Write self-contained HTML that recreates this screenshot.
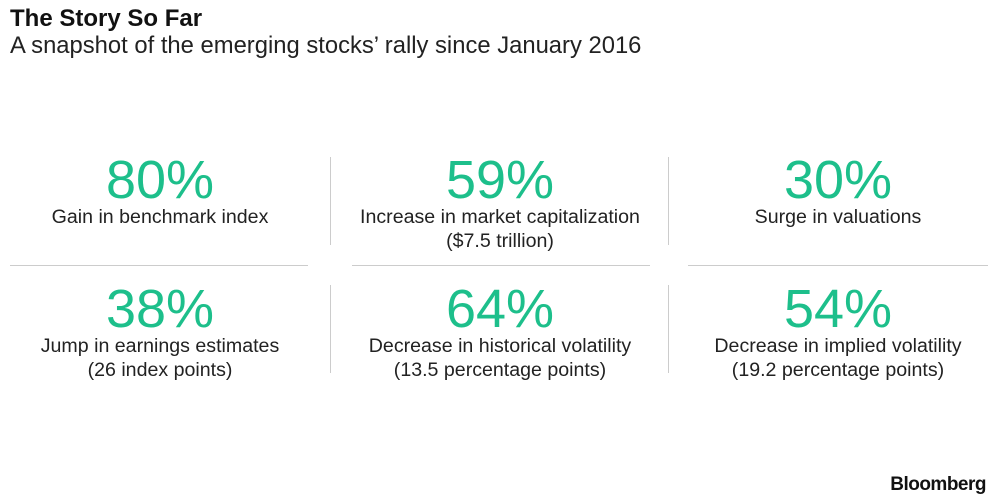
<!DOCTYPE html>
<html><head><meta charset="utf-8"><style>
body{margin:0;width:1000px;height:500px;background:#fff;font-family:"Liberation Sans",sans-serif;position:relative;overflow:hidden}
.a{position:absolute;white-space:nowrap}
.t{left:10px;top:5px;font-size:24px;font-weight:bold;color:#111}
.s{left:10px;top:32px;font-size:23.8px;color:#222}
.cell{position:absolute;width:340px;text-align:center}
.n{font-size:54px;color:#1dbf8b;line-height:54px;height:54px}
.l{font-size:19.6px;color:#222;line-height:24px;margin-top:-2px}
.hl{position:absolute;height:1px;background:#ccc;top:265px}
.vl{position:absolute;width:1px;background:#ccc}
</style></head><body>
<div class="a t">The Story So Far</div>
<div class="a s">A snapshot of the emerging stocks’ rally since January 2016</div>

<div class="cell" style="left:-10px;top:153px"><div class="n">80%</div><div class="l">Gain in benchmark index</div></div>
<div class="cell" style="left:330px;top:153px"><div class="n">59%</div><div class="l">Increase in market capitalization<br>($7.5 trillion)</div></div>
<div class="cell" style="left:668px;top:153px"><div class="n">30%</div><div class="l">Surge in valuations</div></div>

<div class="cell" style="left:-10px;top:282px"><div class="n">38%</div><div class="l">Jump in earnings estimates<br>(26 index points)</div></div>
<div class="cell" style="left:330px;top:282px"><div class="n">64%</div><div class="l">Decrease in historical volatility<br>(13.5 percentage points)</div></div>
<div class="cell" style="left:668px;top:282px"><div class="n">54%</div><div class="l">Decrease in implied volatility<br>(19.2 percentage points)</div></div>

<div class="hl" style="left:10px;width:298px"></div>
<div class="hl" style="left:352px;width:298px"></div>
<div class="hl" style="left:688px;width:300px"></div>
<div class="vl" style="left:330px;top:157px;height:88px"></div>
<div class="vl" style="left:668px;top:157px;height:88px"></div>
<div class="vl" style="left:330px;top:285px;height:88px"></div>
<div class="vl" style="left:668px;top:285px;height:88px"></div>

<div class="a" style="right:14px;top:474px;font-size:19px;font-weight:bold;color:#111;letter-spacing:-0.5px">Bloomberg</div>
</body></html>
